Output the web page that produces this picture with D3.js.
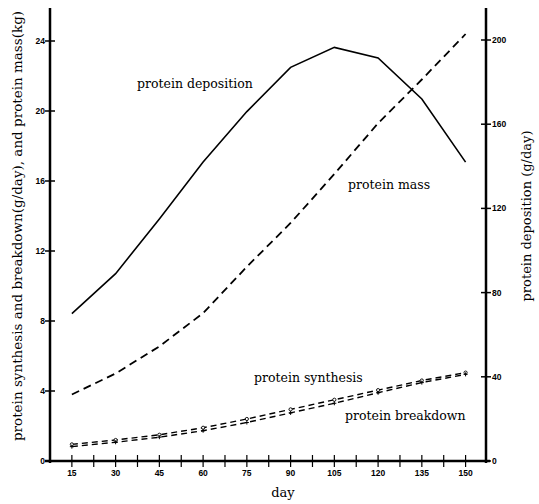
<!DOCTYPE html>
<html>
<head>
<meta charset="utf-8">
<script src="https://cdn.jsdelivr.net/npm/d3@7"></script>
<style>
  body { margin: 0; background: #fff; }
  .tick-label { font-family: "Liberation Sans", Arial, sans-serif; font-weight: bold; font-size: 8.5px; }
  .lab { font-family: "DejaVu Serif", serif; font-size: 12.5px; }
  .axis-title { font-family: "DejaVu Serif", serif; font-size: 12.5px; }
</style>
</head>
<body>
<div id="chart"></div>
<script>
var days = [15, 30, 45, 60, 75, 90, 105, 120, 135, 150];
var deposition = [70, 89, 115, 142, 166, 187, 196.5, 191.5, 172, 142];   // g/day, right axis
var mass = [3.8, 5.0, 6.55, 8.45, 11.1, 13.6, 16.4, 19.3, 21.8, 24.4];    // kg, left axis
var synthesis = [0.95, 1.2, 1.5, 1.9, 2.4, 2.95, 3.5, 4.05, 4.6, 5.05];   // g/day, left axis
var breakdown = [0.82, 1.07, 1.36, 1.73, 2.2, 2.75, 3.3, 3.9, 4.48, 4.95];
var leftTicks = [0, 4, 8, 12, 16, 20, 24];
var rightTicks = [0, 40, 80, 120, 160, 200];
var dayTicks = d3.range(15, 151, 7.5);

var svg = d3.select("#chart")
    .append("svg")
    .attr("width", 539)
    .attr("height", 504);

var x = d3.scaleLinear().domain([7.5, 157]).range([50, 486]);
var yL = d3.scaleLinear().domain([0, 24]).range([461, 41]);
var yR = d3.scaleLinear().domain([0, 200]).range([461, 40]);

var x0 = x(7.5), x1 = x(157), yb = yL(0);

// axes frame
svg.append("line").attr("x1", x0).attr("x2", x0).attr("y1", 8).attr("y2", yb + 2)
    .attr("stroke", "#000").attr("stroke-width", 2.5);
svg.append("line").attr("x1", x1).attr("x2", x1).attr("y1", 8).attr("y2", yb + 2)
    .attr("stroke", "#000").attr("stroke-width", 2.5);
svg.append("line").attr("x1", x0 - 5).attr("x2", x1 + 4).attr("y1", yb).attr("y2", yb)
    .attr("stroke", "#000").attr("stroke-width", 2.5);

// left ticks
var lt = svg.append("g").selectAll("g").data(leftTicks).enter().append("g")
    .attr("transform", function(d) { return "translate(0," + yL(d) + ")"; });
lt.append("line").attr("x1", x0 - 5).attr("x2", x0 + 5).attr("stroke", "#000").attr("stroke-width", 1.5);
lt.append("text").attr("class", "tick-label").attr("x", x0 - 5).attr("dy", "0.35em")
    .attr("text-anchor", "end").text(function(d) { return d; });

// right ticks
var rt = svg.append("g").selectAll("g").data(rightTicks).enter().append("g")
    .attr("transform", function(d) { return "translate(0," + yR(d) + ")"; });
rt.append("line").attr("x1", x1 - 5).attr("x2", x1 + 5).attr("stroke", "#000").attr("stroke-width", 1.5);
rt.append("text").attr("class", "tick-label").attr("x", x1 + 6).attr("dy", "0.35em")
    .attr("text-anchor", "start").text(function(d) { return d; });

// day ticks
var bt = svg.append("g").selectAll("g").data(dayTicks).enter().append("g")
    .attr("transform", function(d) { return "translate(" + x(d) + ",0)"; });
bt.append("line").attr("y1", yb - 6).attr("y2", yb + 6).attr("stroke", "#000").attr("stroke-width", 1.2);
bt.filter(function(d) { return d % 15 == 0; })
  .append("text").attr("class", "tick-label").attr("y", yb + 15)
    .attr("text-anchor", "middle").text(function(d) { return d; });

// lines
var lineR = d3.line().x(function(d) { return x(d[0]); }).y(function(d) { return yR(d[1]); });
var lineL = d3.line().x(function(d) { return x(d[0]); }).y(function(d) { return yL(d[1]); });

function pairs(vals) { return days.map(function(d, i) { return [d, vals[i]]; }); }

svg.append("path").datum(pairs(deposition)).attr("d", lineR)
    .attr("fill", "none").attr("stroke", "#000").attr("stroke-width", 1.6);
svg.append("path").datum(pairs(mass)).attr("d", lineL)
    .attr("fill", "none").attr("stroke", "#000").attr("stroke-width", 1.8)
    .attr("stroke-dasharray", "8,5");
svg.append("path").datum(pairs(synthesis)).attr("d", lineL)
    .attr("fill", "none").attr("stroke", "#000").attr("stroke-width", 1.4)
    .attr("stroke-dasharray", "6,4");
svg.append("path").datum(pairs(breakdown)).attr("d", lineL)
    .attr("fill", "none").attr("stroke", "#000").attr("stroke-width", 1.4)
    .attr("stroke-dasharray", "6,4");

// small markers on synthesis / breakdown
svg.append("g").selectAll("circle").data(pairs(synthesis)).enter().append("circle")
    .attr("cx", function(d) { return x(d[0]); }).attr("cy", function(d) { return yL(d[1]); })
    .attr("r", 1.6).attr("fill", "#fff").attr("stroke", "#000").attr("stroke-width", 0.9);
svg.append("g").selectAll("path").data(pairs(breakdown)).enter().append("path")
    .attr("d", function(d) {
      var cx = x(d[0]), cy = yL(d[1]);
      return "M" + (cx - 2) + "," + cy + "H" + (cx + 2) + "M" + cx + "," + (cy - 2) + "V" + (cy + 2);
    })
    .attr("stroke", "#000").attr("stroke-width", 1);

// series labels
svg.append("text").attr("class", "lab").attr("x", 137).attr("y", 88).text("protein deposition");
svg.append("text").attr("class", "lab").attr("x", 348).attr("y", 189).text("protein mass");
svg.append("text").attr("class", "lab").attr("x", 254).attr("y", 382).text("protein synthesis");
svg.append("text").attr("class", "lab").attr("x", 345).attr("y", 420).text("protein breakdown");

// axis titles
svg.append("text").attr("class", "axis-title").attr("x", 283).attr("y", 497)
    .attr("text-anchor", "middle").style("font-size", "13px").text("day");
svg.append("text").attr("class", "axis-title")
    .attr("transform", "translate(22,226) rotate(-90)")
    .attr("text-anchor", "middle")
    .style("font-size", "13.5px")
    .text("protein synthesis and breakdown(g/day), and protein mass(kg)");
svg.append("text").attr("class", "axis-title")
    .attr("transform", "translate(531,216) rotate(-90)")
    .attr("text-anchor", "middle")
    .style("font-size", "13px")
    .text("protein deposition  (g/day)");
</script>
</body>
</html>
